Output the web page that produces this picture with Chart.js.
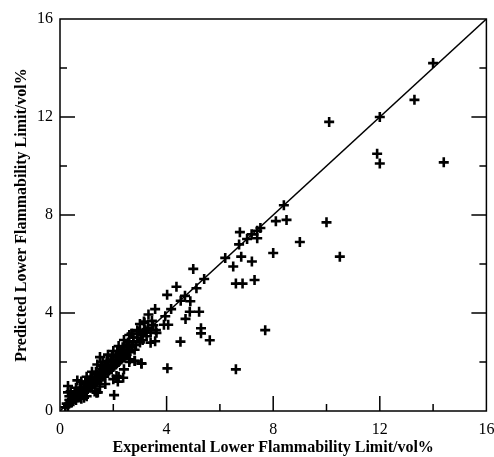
<!DOCTYPE html>
<html>
<head>
<meta charset="utf-8">
<script src="https://cdn.jsdelivr.net/npm/chart.js@4"></script>
<style>
  html, body { margin: 0; padding: 0; background: #fff; }
  canvas { display: block; }
</style>
</head>
<body>
<canvas id="lflChart" width="494" height="457"></canvas>
<script>
// experimental vs predicted LFL (vol%)
const expValues = [
  0.2, 0.25, 0.3, 0.35, 0.4, 0.45, 0.5, 0.5, 0.55, 0.6, 0.6, 0.65, 0.7, 0.7, 0.75,
  0.8, 0.8, 0.85, 0.9, 0.9, 0.95, 1.0, 1.0, 1.05, 1.1, 1.1, 1.15, 1.2, 1.2, 1.25,
  1.3, 1.3, 1.35, 1.4, 1.4, 1.45, 1.5, 1.5, 1.55, 1.6, 1.6, 1.65, 1.7, 1.7, 1.75,
  1.8, 1.8, 1.85, 1.9, 1.9, 1.95, 2.0, 2.0, 2.05, 2.1, 2.1, 2.15, 2.2, 2.2, 2.25,
  2.3, 2.3, 2.35, 2.4, 2.4, 2.45, 2.5, 2.5, 2.55, 2.6, 2.6, 2.7, 2.75, 2.8, 2.85,
  2.9, 3.0, 3.05, 3.1, 3.2, 3.25, 3.3, 3.4, 3.5, 3.6,
  0.8, 1.0, 1.3, 1.5, 1.7, 2.0, 2.2, 2.4, 2.6, 2.8, 3.05,
  0.4, 0.6, 0.8, 1.0, 1.2, 1.4, 1.5, 1.6, 1.8, 2.0, 2.2, 2.4, 2.6, 2.7, 2.9, 3.0, 3.15,
  0.3, 0.3, 0.65, 0.9, 1.37, 1.42, 2.03, 2.12, 2.17, 2.37, 2.62, 2.68, 2.81, 2.92, 3.06,
  3.11, 3.17, 3.32, 3.4, 3.45, 3.57, 3.57, 3.62, 3.9, 3.95, 4.02, 4.03, 4.06, 4.17,
  4.37, 4.52, 4.53, 4.69, 4.71, 4.87, 4.89, 5.0, 5.12, 5.22, 5.29, 5.29, 5.41, 5.62,
  6.2, 6.5, 6.6, 6.6, 6.72, 6.75, 6.8, 6.85, 7.02, 7.19, 7.2, 7.3, 7.4, 7.4, 7.52,
  7.7, 8.0, 8.1, 8.4, 8.5, 9.0, 10.0, 10.1, 10.5, 11.9, 12.0, 12.0, 13.3, 14.0, 14.4,
  0.35, 0.55, 0.75, 0.95, 1.15, 1.35, 1.55, 1.75, 1.95, 2.15, 2.35, 2.55, 2.75
];
const predValues = [
  0.15, 0.3, 0.2, 0.45, 0.35, 0.5, 0.4, 0.6, 0.5, 0.7, 0.45, 0.6, 0.8, 0.55, 0.7,
  0.9, 0.65, 0.8, 1.0, 0.75, 0.9, 1.1, 0.85, 1.0, 1.2, 0.95, 1.1, 1.35, 1.0, 1.2,
  1.4, 1.1, 1.3, 1.5, 1.2, 1.35, 1.6, 1.3, 1.5, 1.7, 1.4, 1.55, 1.8, 1.5, 1.65,
  1.9, 1.55, 1.75, 2.0, 1.7, 1.85, 2.1, 1.8, 1.95, 2.2, 1.9, 2.05, 2.3, 2.0, 2.15,
  2.4, 2.1, 2.25, 2.5, 2.2, 2.35, 2.6, 2.3, 2.45, 2.7, 2.4, 2.6, 2.85, 2.5, 2.7,
  3.0, 2.8, 3.1, 2.9, 3.3, 3.05, 3.4, 3.2, 3.5, 3.3,
  0.5, 0.6, 0.8, 1.0, 1.1, 1.3, 1.4, 1.7, 2.0, 2.05, 1.95,
  0.8, 0.95, 1.2, 1.4, 1.6, 1.9, 2.2, 2.0, 2.3, 2.45, 2.65, 2.9, 3.1, 3.15, 3.3, 3.55, 3.65,
  1.02, 0.76, 1.25, 0.54, 0.75, 0.76, 0.65, 1.43, 1.2, 1.36, 2.11, 3.15, 2.04, 3.25, 1.93,
  3.19, 3.6, 3.94, 2.79, 3.68, 4.16, 2.85, 3.19, 3.52, 3.87, 4.74, 1.74, 3.52, 4.16,
  5.07, 2.83, 4.5, 4.7, 3.76, 4.05, 4.48, 5.8, 5.01, 4.05, 3.38, 3.17, 5.39, 2.89,
  6.25, 5.9, 5.2, 1.7, 6.8, 7.3, 6.3, 5.2, 7.02, 7.21, 6.1, 5.35, 7.36, 7.05, 7.47,
  3.3, 6.45, 7.75, 8.4, 7.8, 6.9, 7.7, 11.8, 6.3, 10.5, 12.0, 10.1, 12.7, 14.2, 10.15,
  0.6, 0.75, 0.95, 1.2, 1.4, 1.6, 1.85, 2.05, 2.25, 2.45, 2.6, 2.8, 3.0
];
const parityLine = [0, 16];
const axisTicks = [0, 4, 8, 12, 16];
const minorTicks = [2, 6, 10, 14];

const points = expValues.map((x, i) => ({ x: x, y: predValues[i] }));

// frame + inward tick marks (bottom, left, right; none on top)
const frameTicks = {
  id: 'frameTicks',
  afterDraw(chart) {
    const { ctx, chartArea: a, scales: { x, y } } = chart;
    ctx.save();
    ctx.strokeStyle = '#000';
    ctx.lineWidth = 1.5;
    ctx.strokeRect(a.left, a.top, a.right - a.left, a.bottom - a.top);
    const all = axisTicks.concat(minorTicks).filter(v => v > 0 && v < 16);
    ctx.beginPath();
    all.forEach(v => {
      const len = axisTicks.includes(v) ? 15 : 7;
      const px = x.getPixelForValue(v);
      ctx.moveTo(px, a.bottom);
      ctx.lineTo(px, a.bottom - len);
      const py = y.getPixelForValue(v);
      ctx.moveTo(a.left, py);
      ctx.lineTo(a.left + len, py);
      ctx.moveTo(a.right, py);
      ctx.lineTo(a.right - len, py);
    });
    ctx.stroke();
    ctx.restore();
  }
};

const tickFont = { family: 'Liberation Serif', size: 16 };
const titleFont = { family: 'Liberation Serif', size: 16, weight: 'bold' };

new Chart(document.getElementById('lflChart'), {
  type: 'scatter',
  data: {
    datasets: [
      {
        data: points,
        pointStyle: 'cross',
        pointRadius: 5,
        pointBorderWidth: 2.6,
        borderColor: '#000',
        backgroundColor: '#000'
      },
      {
        type: 'line',
        data: parityLine.map(v => ({ x: v, y: v })),
        borderColor: '#000',
        borderWidth: 1.5,
        pointRadius: 0,
        fill: false
      }
    ]
  },
  options: {
    responsive: false,
    animation: false,
    devicePixelRatio: 1,
    layout: { padding: { top: 19, right: 7, left: 0, bottom: 0 } },
    plugins: { legend: { display: false }, tooltip: { enabled: false } },
    scales: {
      x: {
        type: 'linear',
        min: 0,
        max: 16,
        afterFit: s => { s.height = 46; s.paddingLeft = 0; s.paddingRight = 0; },
        afterBuildTicks: s => { s.ticks = axisTicks.map(v => ({ value: v })); },
        grid: { display: false, drawTicks: false },
        border: { display: false },
        ticks: { font: tickFont, color: '#000', padding: 9, maxRotation: 0 },
        title: {
          display: true,
          text: 'Experimental Lower Flammability Limit/vol%',
          font: titleFont,
          color: '#000',
          padding: { top: 0, bottom: 0 }
        }
      },
      y: {
        type: 'linear',
        min: 0,
        max: 16,
        afterFit: s => { s.width = 60; s.paddingTop = 0; s.paddingBottom = 0; },
        afterBuildTicks: s => { s.ticks = axisTicks.map(v => ({ value: v })); },
        grid: { display: false, drawTicks: false },
        border: { display: false },
        ticks: { font: tickFont, color: '#000', padding: 7 },
        title: {
          display: true,
          text: 'Predicted Lower Flammability Limit/vol%',
          font: titleFont,
          color: '#000',
          padding: { top: 12, bottom: 0 }
        }
      }
    }
  },
  plugins: [frameTicks]
});
</script>
</body>
</html>
